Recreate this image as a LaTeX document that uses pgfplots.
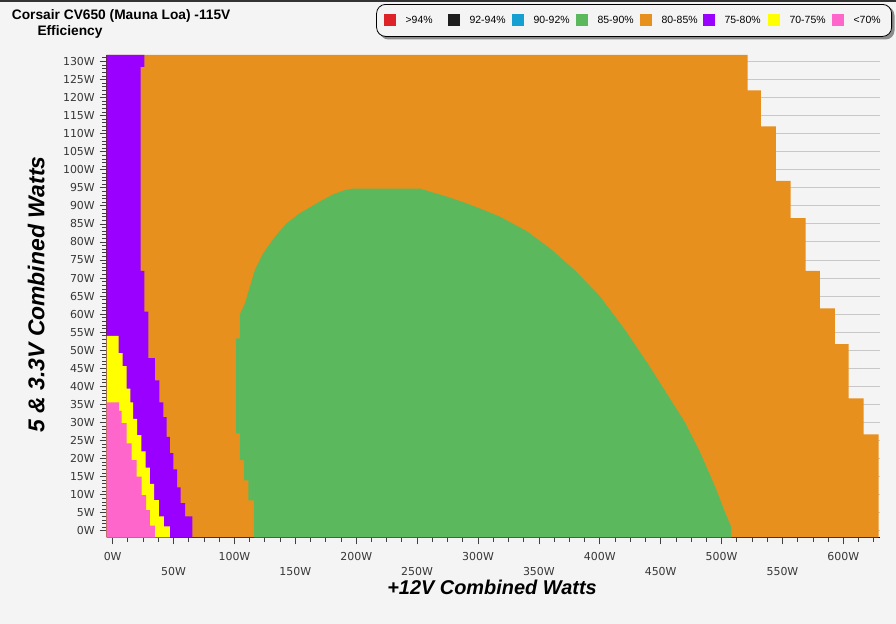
\documentclass[border=0pt]{standalone}
\usepackage{fontspec}
\setmainfont{Liberation Sans}
\newfontfamily\dejavu{DejaVu Sans}
\usepackage{pgfplots}
\pgfplotsset{compat=1.18}
\definecolor{bgc}{RGB}{244,244,244}
\definecolor{cred}{RGB}{221,34,40}
\definecolor{cblack}{RGB}{30,30,30}
\definecolor{cblue}{RGB}{22,160,210}
\definecolor{cgreen}{RGB}{92,184,92}
\definecolor{corange}{RGB}{232,144,30}
\definecolor{cpurple}{RGB}{153,0,255}
\definecolor{cyellow}{RGB}{255,255,0}
\definecolor{cpink}{RGB}{255,102,204}
\definecolor{gridc}{RGB}{200,200,200}
\definecolor{tickc}{RGB}{55,55,55}
\newcommand\tickfont{\dejavu\fontsize{11}{13}\selectfont}
\newcommand\legfont{\fontsize{10.5}{12}\selectfont}
\newcommand\dn[1]{\raisebox{-15bp}{#1}}
\begin{document}
\begin{tikzpicture}
\fill[bgc] (0bp,0bp) rectangle (896bp,624bp);
\draw[black!80, line width=2bp] (0bp,623bp) -- (896bp,623bp);
\node[anchor=base west, inner sep=0pt, font=\bfseries\fontsize{13.8}{16}\selectfont] at (11.7bp,604.8bp) {Corsair CV650 (Mauna Loa) -115V};
\node[anchor=base west, inner sep=0pt, font=\bfseries\fontsize{13.8}{16}\selectfont] at (37.3bp,588bp) {Efficiency};
% legend shadow
\fill[black!45, rounded corners=9bp] (379.5bp,584.5bp) rectangle (894.5bp,617.5bp);
\begin{axis}[
  at={(106.7bp,86.7bp)}, anchor=south west,
  scale only axis, width=773.3bp, height=482.3bp,
  xmin=-4.9, xmax=630.1, ymin=-1.8, ymax=131.8,
  axis x line*=bottom, axis y line*=left,
  axis line style={-, line width=1.3bp, black},
  tick align=outside,
  major tick length=7bp, minor tick length=4.5bp,
  tick style={black!75, line width=0.8bp},
  xtick={0,50,...,600},
  minor xtick={0,12.5,...,625},
  ytick={0,5,...,130},
  minor ytick={0,1,...,131},
  ymajorgrids=true,
  major grid style={draw=gridc, line width=1bp},
  xticklabels={0W,\dn{50W},100W,\dn{150W},200W,\dn{250W},300W,\dn{350W},400W,\dn{450W},500W,\dn{550W},600W},
  yticklabels={0W,5W,10W,15W,20W,25W,30W,35W,40W,45W,50W,55W,60W,65W,70W,75W,80W,85W,90W,95W,100W,105W,110W,115W,120W,125W,130W},
  xticklabel style={font=\tickfont, text=tickc, anchor=base, inner sep=0pt, yshift=-16.7bp},
  yticklabel style={font=\tickfont, text=tickc, anchor=east, inner sep=0pt, xshift=-4.7bp},
  xlabel={+12V Combined Watts},
  ylabel={5 \& 3.3V Combined Watts},
  xlabel style={font=\bfseries\itshape\fontsize{20}{24}\selectfont, at={(axis description cs:0.4983,-0.1196)}, anchor=base, inner sep=0pt},
  ylabel style={font=\bfseries\itshape\fontsize{23}{27}\selectfont, at={(axis description cs:-0.0806,0.5034)}, anchor=base, inner sep=0pt, rotate=0},
  legend columns=8,
  legend image code/.code={\path[#1, sharp corners] (0bp,-6bp) rectangle (12bp,6bp);},
  legend style={
    at={(axis description cs:1.0155,1.1057)}, anchor=north east,
    draw=black, line width=0.8bp, rounded corners=9bp, fill=bgc,
    font=\legfont, inner xsep=7bp, inner ysep=10bp,
    nodes={inner sep=0pt},
    /tikz/every odd column/.append style={column sep=10bp},
    /tikz/every even column/.append style={column sep=0pt},
  },
  legend cell align=left,
]
% 80-85%
\addplot[fill=corange, draw=none, forget plot] coordinates {(-4.9,-1.8) (628.9,-1.8) (628.9,26.7) (616.6,26.7) (616.6,36.7) (604.3,36.7) (604.3,51.7) (593,51.7) (593,61.6) (580.7,61.6) (580.7,72) (569,72) (569,86.6) (556.6,86.6) (556.6,96.9) (544.6,96.9) (544.6,112) (532.3,112) (532.3,122) (521.3,122) (521.3,131.8) (-4.9,131.8)} -- cycle;
% 85-90%
\addplot[fill=cgreen, draw=none, forget plot] coordinates {(116,-1.8) (116,8.4) (111.4,8.4) (111.4,14) (107.8,14) (107.8,19.6) (104.5,19.6) (104.5,27) (101.2,27) (101.2,53.3) (104.5,53.3) (104.5,60) (108.6,63) (112.7,67.6) (116.8,72.3) (123.6,76.9) (133.3,81.5) (142.9,85.2) (153.8,88) (162,89.6) (170,91.2) (181,93.2) (190,94.3) (197.5,94.8) (252.3,94.8) (263.2,93.7) (277,92.3) (290.6,90.7) (304.3,88.9) (318,87) (340,83) (360,78) (380,72) (400,65) (420,56) (440,46) (455,38) (470,30) (482,22) (495,12) (503,5) (508,1) (508,-1.8)} -- cycle;
% 75-80%
\addplot[fill=cpurple, draw=none, forget plot] coordinates {(-4.9,-1.8) (65.4,-1.8) (65.4,4) (59.4,4) (59.4,7.7) (55.8,7.7) (55.8,12) (53,12) (53,17) (49.8,17) (49.8,21.5) (47,21.5) (47,26) (44.3,26) (44.3,31.5) (41.6,31.5) (41.6,35.6) (38.3,35.6) (38.3,41.7) (34.7,41.7) (34.7,47.8) (29.3,47.8) (29.3,60.7) (26,60.7) (26,72) (23,72) (23,128.5) (26,128.5) (26,131.8) (-4.9,131.8)} -- cycle;
% 70-75%
\addplot[fill=cyellow, draw=none, forget plot] coordinates {(-4.9,-1.8) (47,-1.8) (47,1.2) (42,1.2) (42,4) (38,4) (38,8.5) (34,8.5) (34,13) (30.5,13) (30.5,17.5) (27,17.5) (27,22) (23.5,22) (23.5,26.5) (20,26.5) (20,31) (16.9,31) (16.9,35.6) (14.5,35.6) (14.5,39.4) (11.5,39.4) (11.5,45.6) (8.2,45.6) (8.2,49.2) (4.8,49.2) (4.8,54) (-4.9,54)} -- cycle;
% <70%
\addplot[fill=cpink, draw=none, forget plot] coordinates {(-4.9,-1.8) (34.7,-1.8) (34.7,1.4) (30.6,1.4) (30.6,5.7) (27.5,5.7) (27.5,9.9) (23.8,9.9) (23.8,15) (19.7,15) (19.7,19.6) (15.6,19.6) (15.6,24.2) (11.5,24.2) (11.5,29.8) (7.4,29.8) (7.4,33.2) (5.4,33.2) (5.4,35.6) (-4.9,35.6)} -- cycle;
\addlegendimage{fill=cred, draw=none}
\addlegendentry{\makebox[42bp][l]{>94\%}}
\addlegendimage{fill=cblack, draw=none}
\addlegendentry{\makebox[42bp][l]{92-94\%}}
\addlegendimage{fill=cblue, draw=none}
\addlegendentry{\makebox[42bp][l]{90-92\%}}
\addlegendimage{fill=cgreen, draw=none}
\addlegendentry{\makebox[42bp][l]{85-90\%}}
\addlegendimage{fill=corange, draw=none}
\addlegendentry{\makebox[41bp][l]{80-85\%}}
\addlegendimage{fill=cpurple, draw=none}
\addlegendentry{\makebox[43bp][l]{75-80\%}}
\addlegendimage{fill=cyellow, draw=none}
\addlegendentry{\makebox[42bp][l]{70-75\%}}
\addlegendimage{fill=cpink, draw=none}
\addlegendentry{\makebox[31bp][l]{<70\%}}
\end{axis}
\pgfresetboundingbox
\path[use as bounding box] (0bp,0bp) rectangle (896bp,624bp);
\end{tikzpicture}
\end{document}
